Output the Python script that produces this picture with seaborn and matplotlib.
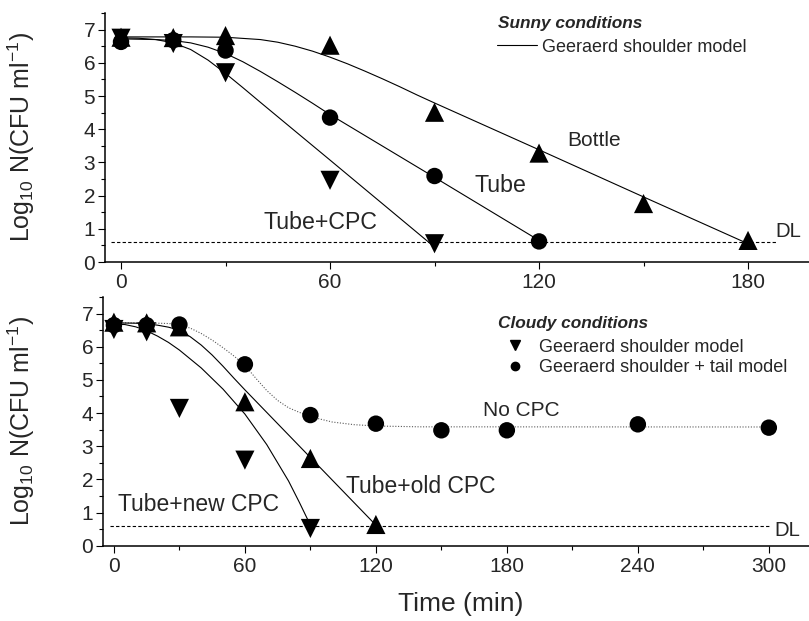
import matplotlib
matplotlib.use("Agg")
import matplotlib.pyplot as plt
import seaborn as sns
from matplotlib.lines import Line2D
from matplotlib.ticker import MultipleLocator

# ---------------- data: sunny conditions (top panel) ----------------
bottle_t = [0, 15, 30, 60, 90, 120, 150, 180]
bottle_y = [6.77, 6.76, 6.82, 6.53, 4.51, 3.28, 1.76, 0.65]
tube_t = [0, 15, 30, 60, 90, 120]
tube_y = [6.63, 6.68, 6.37, 4.35, 2.59, 0.62]
tubecpc_t = [0, 15, 30, 60, 90]
tubecpc_y = [6.74, 6.58, 5.70, 2.46, 0.55]

# model curves
bottle_fit_t = [0, 20, 30, 40, 45, 50, 55, 60, 65, 70, 75, 80, 85, 90, 120, 150, 180]
bottle_fit_y = [6.78, 6.78, 6.77, 6.70, 6.62, 6.50, 6.35, 6.17, 5.97, 5.75, 5.52, 5.28, 5.03, 4.79, 3.38, 1.96, 0.55]
tube_fit_t = [0, 10, 15, 20, 25, 30, 35, 40, 45, 50, 55, 60, 90, 120]
tube_fit_y = [6.72, 6.70, 6.67, 6.60, 6.47, 6.28, 6.03, 5.74, 5.43, 5.11, 4.78, 4.44, 2.55, 0.65]
tubecpc_fit_t = [0, 5, 10, 15, 20, 25, 30, 35, 40, 60, 90]
tubecpc_fit_y = [6.75, 6.74, 6.70, 6.60, 6.40, 6.08, 5.68, 5.25, 4.81, 3.07, 0.45]

# ---------------- data: cloudy conditions (bottom panel) ----------------
newcpc_t = [0, 15, 30, 60, 90]
newcpc_y = [6.52, 6.45, 4.14, 2.58, 0.52]
oldcpc_t = [0, 15, 30, 60, 90, 120]
oldcpc_y = [6.74, 6.72, 6.60, 4.34, 2.63, 0.64]
nocpc_t = [0, 15, 30, 60, 90, 120, 150, 180, 240, 300]
nocpc_y = [6.65, 6.65, 6.67, 5.47, 3.94, 3.68, 3.48, 3.48, 3.66, 3.56]

newcpc_fit_t = [0, 5, 10, 15, 20, 25, 30, 40, 50, 60, 70, 80, 85, 90]
newcpc_fit_y = [6.68, 6.67, 6.60, 6.48, 6.32, 6.13, 5.90, 5.36, 4.72, 3.97, 3.05, 1.95, 1.30, 0.62]
oldcpc_fit_t = [0, 10, 15, 20, 25, 30, 35, 40, 45, 50, 55, 60, 90, 120]
oldcpc_fit_y = [6.72, 6.71, 6.69, 6.65, 6.59, 6.50, 6.30, 6.05, 5.75, 5.41, 5.05, 4.70, 2.66, 0.62]
nocpc_fit_t = [0, 15, 25, 30, 35, 40, 45, 50, 55, 60, 65, 70, 75, 80, 85, 90, 100, 110, 120, 140, 300]
nocpc_fit_y = [6.72, 6.72, 6.70, 6.67, 6.56, 6.40, 6.20, 5.97, 5.72, 5.44, 5.05, 4.68, 4.38, 4.16, 4.02, 3.89, 3.73, 3.65, 3.61, 3.585, 3.58]

dl_value = 0.6
dl_top_t = [-3, 188]
dl_bot_t = [-2, 300]

sns.set_theme(style="ticks")
plt.rcParams["font.family"] = ["Liberation Sans", "DejaVu Sans"]
plt.rcParams["mathtext.default"] = "regular"

fig = plt.figure(figsize=(8.09, 6.21), dpi=100)
W, H = 809, 621
ax1 = fig.add_axes([105 / W, 1 - 262 / H, 704 / W, 249 / H])
ax2 = fig.add_axes([103 / W, 1 - 545.7 / H, 706 / W, 248.7 / H])

LW = 0.8
TRI = 190
CIR = 140


def curve(ax, t, y, **kw):
    sns.lineplot(x=t, y=y, ax=ax, sort=False, estimator=None, color="black", lw=LW, **kw)


def pts(ax, t, y, marker, s):
    sns.scatterplot(x=t, y=y, ax=ax, marker=marker, s=s, color="black",
                    edgecolor="none", linewidth=0, legend=False, zorder=5)


# top
curve(ax1, dl_top_t, [dl_value, dl_value], linestyle=(0, (3, 2)))
curve(ax1, bottle_fit_t, bottle_fit_y)
curve(ax1, tube_fit_t, tube_fit_y)
curve(ax1, tubecpc_fit_t, tubecpc_fit_y)
pts(ax1, bottle_t, bottle_y, "^", TRI)
pts(ax1, tube_t, tube_y, "o", CIR)
pts(ax1, tubecpc_t, tubecpc_y, "v", TRI)

# bottom
curve(ax2, dl_bot_t, [dl_value, dl_value], linestyle=(0, (3, 2)))
sns.lineplot(x=nocpc_fit_t, y=nocpc_fit_y, ax=ax2, sort=False, estimator=None,
             color="0.35", lw=LW, linestyle=(0, (1, 1.5)))
curve(ax2, newcpc_fit_t, newcpc_fit_y)
curve(ax2, oldcpc_fit_t, oldcpc_fit_y)
pts(ax2, nocpc_t, nocpc_y, "o", CIR)
pts(ax2, oldcpc_t, oldcpc_y, "^", TRI)
pts(ax2, newcpc_t, newcpc_y, "v", TRI)

TICK = 15
for ax, xl, xt in [(ax1, (-4.6, 197.5), [0, 60, 120, 180]),
                   (ax2, (-5.0, 318.4), [0, 60, 120, 180, 240, 300])]:
    ax.set_xlim(*xl)
    ax.set_ylim(0, 7.5)
    ax.set_xticks(xt)
    ax.set_yticks(range(0, 8))
    ax.xaxis.set_minor_locator(MultipleLocator(30))
    ax.yaxis.set_minor_locator(MultipleLocator(0.5))
    for s in ["top", "right"]:
        ax.spines[s].set_visible(False)
    for s in ["left", "bottom"]:
        ax.spines[s].set_linewidth(1.1)
        ax.spines[s].set_color("black")
    ax.tick_params(which="major", length=5, width=0.8, color="black", labelsize=TICK, pad=2)
    ax.tick_params(which="minor", length=3, width=0.8, color="black")
    ax.tick_params(axis="x", pad=3)
    ax.set_facecolor("white")
    ax.set_ylabel(r"Log$_{10}$ N(CFU ml$^{-1}$)", fontsize=18)

ax1.yaxis.set_label_coords((37 - 105) / 704, 0.5)
ax2.yaxis.set_label_coords((37 - 103) / 706, 0.5)
ax1.set_xlabel("")
ax2.set_xlabel("Time (min)", fontsize=19)
ax2.xaxis.set_label_coords((461 - 103) / 706, (545.7 - 592) / 248.7)

# annotations
ax1.text(40.8, 1.18, "Tube+CPC", fontsize=16.7, va="center", ha="left")
ax1.text(135.8, 3.66, "Bottle", fontsize=15, va="center", ha="center")
ax1.text(109, 2.31, "Tube", fontsize=16.7, va="center", ha="center")
ax1.text(187.8, 0.91, "DL", fontsize=14.6, va="center", ha="left")

ax2.text(1.8, 1.23, "Tube+new CPC", fontsize=16.5, va="center", ha="left")
ax2.text(106.3, 1.78, "Tube+old CPC", fontsize=16.5, va="center", ha="left")
ax2.text(169.2, 4.07, "No CPC", fontsize=15, va="center", ha="left")
ax2.text(302.5, 0.47, "DL", fontsize=14.6, va="center", ha="left")

# legends (titles as separate text)
title_kw = dict(fontsize=12.4, fontweight="bold", fontstyle="italic", va="center", ha="left")
fig.text(498 / W, 1 - 23.5 / H, "Sunny conditions", **title_kw)
fig.text(498 / W, 1 - 323.5 / H, "Cloudy conditions", **title_kw)

leg1 = ax1.legend(handles=[Line2D([], [], color="black", lw=LW)],
                  labels=["Geeraerd shoulder model"],
                  loc="center left", bbox_to_anchor=(497 / W, 1 - 47 / H),
                  bbox_transform=fig.transFigure,
                  frameon=False, borderpad=0, borderaxespad=0, handlelength=2.2,
                  handletextpad=0.3, fontsize=13)
leg2 = ax2.legend(handles=[Line2D([], [], ls="none", marker="v", ms=7, color="black"),
                           Line2D([], [], ls="none", marker="o", ms=6, color="black")],
                  labels=["Geeraerd shoulder model", "Geeraerd shoulder + tail model"],
                  loc="center left", bbox_to_anchor=(497 / W, 1 - 357.5 / H),
                  bbox_transform=fig.transFigure,
                  frameon=False, borderpad=0, borderaxespad=0, handlelength=2.0,
                  handletextpad=0.35, fontsize=13, labelspacing=0.22)

fig.savefig("out.png", dpi=100, facecolor="white")
